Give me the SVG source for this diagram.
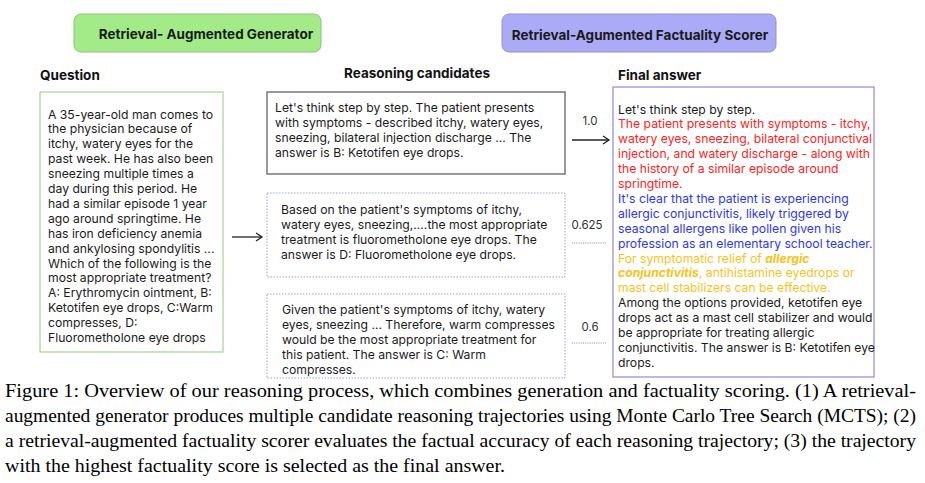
<svg xmlns="http://www.w3.org/2000/svg" width="925" height="483" viewBox="0 0 925 483">
<style>
text{font-family:Inter,"Noto Sans","Liberation Sans",sans-serif;font-size:12.2px;fill:#1a1a1a}
.h{font-weight:bold;font-size:13.5px}
.hd{font-weight:bold;font-size:13.5px;fill:#111}
.sc{font-size:11.5px;fill:#333}
.r{fill:#ff2222}.b{fill:#2c36f2}.y{fill:#f6c31c}
.cap{font-family:"Liberation Serif","Times New Roman",serif;font-size:19.5px;fill:#000}
.ln{stroke:#222;stroke-width:1.3;fill:none}
.dot{stroke:#888;stroke-width:1;stroke-dasharray:1 1.2;fill:none}
</style>
<defs>
<marker id="ah" markerWidth="10" markerHeight="10" refX="8" refY="5" orient="auto" markerUnits="userSpaceOnUse">
<path d="M2,1 L8,5 L2,9" fill="none" stroke="#222" stroke-width="1.3"/>
</marker>
</defs>
<rect width="925" height="483" fill="#fff"/>
<g id="gen">
<rect x="74" y="14" width="247" height="38" rx="7" fill="#a2eb88" stroke="#8fbf80" stroke-width="1"/>
<text class="h" x="206" y="39" text-anchor="middle">Retrieval- Augmented Generator</text>
</g>
<g id="scorer">
<rect x="502" y="14" width="274" height="38" rx="7" fill="#aaaaf6" stroke="#9494c8" stroke-width="1"/>
<text class="h" x="640" y="40" text-anchor="middle">Retrieval-Agumented Factuality Scorer</text>
</g>
<text class="hd" x="40" y="80">Question</text>
<text class="hd" x="344" y="78">Reasoning candidates</text>
<text class="hd" x="618" y="80">Final answer</text>
<g id="question">
<rect x="40" y="92" width="183" height="260" fill="#fff" stroke="#a4d690" stroke-width="1.2"/>
<text x="48" y="118.5">A 35-year-old man comes to</text>
<text x="48" y="133.4">the physician because of</text>
<text x="48" y="148.3">itchy, watery eyes for the</text>
<text x="48" y="163.2">past week. He has also been</text>
<text x="48" y="178.1">sneezing multiple times a</text>
<text x="48" y="193">day during this period. He</text>
<text x="48" y="207.9">had a similar episode 1 year</text>
<text x="48" y="222.8">ago around springtime. He</text>
<text x="48" y="237.7">has iron deficiency anemia</text>
<text x="48" y="252.6">and ankylosing spondylitis ...</text>
<text x="48" y="267.5">Which of the following is the</text>
<text x="48" y="282.4">most appropriate treatment?</text>
<text x="48" y="297.3">A: Erythromycin ointment, B:</text>
<text x="48" y="312.2">Ketotifen eye drops, C:Warm</text>
<text x="48" y="327.1">compresses, D:</text>
<text x="48" y="342">Fluorometholone eye drops</text>
</g>
<g id="cand1">
<rect x="267" y="92" width="298" height="82" fill="#fff" stroke="#555" stroke-width="1.2"/>
<text x="275" y="111.5">Let's think step by step. The patient presents</text>
<text x="275" y="126.5">with symptoms - described itchy, watery eyes,</text>
<text x="275" y="141.5">sneezing, bilateral injection discharge ... The</text>
<text x="275" y="156.5">answer is B: Ketotifen eye drops.</text>
</g>
<g id="cand2">
<rect x="267" y="193" width="298" height="84" fill="#fff" stroke="#9aa3c9" stroke-width="1" stroke-dasharray="1.5 1.5"/>
<text x="281" y="214">Based on the patient's symptoms of itchy,</text>
<text x="281" y="229">watery eyes, sneezing,....the most appropriate</text>
<text x="281" y="244">treatment is fluorometholone eye drops. The</text>
<text x="281" y="259">answer is D: Fluorometholone eye drops.</text>
</g>
<g id="cand3">
<rect x="267" y="294" width="298" height="84" fill="#fff" stroke="#9aa3c9" stroke-width="1" stroke-dasharray="1.5 1.5"/>
<text x="282" y="313.5">Given the patient's symptoms of itchy, watery</text>
<text x="282" y="328.5">eyes, sneezing ... Therefore, warm compresses</text>
<text x="282" y="343.5">would be the most appropriate treatment for</text>
<text x="282" y="358.5">this patient. The answer is C: Warm</text>
<text x="282" y="373.5">compresses.</text>
</g>
<g id="final">
<rect x="613" y="87" width="261" height="290" fill="#fff" stroke="#9a92dd" stroke-width="1.3"/>
<text x="618" y="113.5">Let's think step by step.</text>
<text class="r" x="618" y="128.4">The patient presents with symptoms - itchy,</text>
<text class="r" x="618" y="143.3">watery eyes, sneezing, bilateral conjunctival</text>
<text class="r" x="618" y="158.2">injection, and watery discharge - along with</text>
<text class="r" x="618" y="173.1">the history of a similar episode around</text>
<text class="r" x="618" y="188">springtime.</text>
<text class="b" x="618" y="202.9">It's clear that the patient is experiencing</text>
<text class="b" x="618" y="217.8">allergic conjunctivitis, likely triggered by</text>
<text class="b" x="618" y="232.7">seasonal allergens like pollen given his</text>
<text class="b" x="618" y="247.6">profession as an elementary school teacher.</text>
<text class="y" x="618" y="262.5">For symptomatic relief of <tspan font-weight="bold" font-style="italic">allergic</tspan></text>
<text class="y" x="618" y="277.4"><tspan font-weight="bold" font-style="italic">conjunctivitis</tspan>, antihistamine eyedrops or</text>
<text class="y" x="618" y="292.3">mast cell stabilizers can be effective.</text>
<text x="618" y="307.2">Among the options provided, ketotifen eye</text>
<text x="618" y="322.1">drops act as a mast cell stabilizer and would</text>
<text x="618" y="337">be appropriate for treating allergic</text>
<text x="618" y="351.9">conjunctivitis. The answer is B: Ketotifen eye</text>
<text x="618" y="366.8">drops.</text>
</g>
<g id="connectors">
<line class="ln" x1="232" y1="237" x2="262" y2="237" marker-end="url(#ah)"/>
<line class="ln" x1="572" y1="140" x2="609" y2="140" marker-end="url(#ah)"/>
<line class="dot" x1="572" y1="243" x2="607" y2="243"/>
<line class="dot" x1="572" y1="343" x2="607" y2="343"/>
<text class="sc" x="590" y="125" text-anchor="middle">1.0</text>
<text class="sc" x="587" y="229" text-anchor="middle">0.625</text>
<text class="sc" x="590" y="331" text-anchor="middle">0.6</text>
</g>
<g id="caption">
<text class="cap" x="5" y="397" textLength="911" lengthAdjust="spacingAndGlyphs">Figure 1: Overview of our reasoning process, which combines generation and factuality scoring. (1) A retrieval-</text>
<text class="cap" x="5" y="422" textLength="911" lengthAdjust="spacingAndGlyphs">augmented generator produces multiple candidate reasoning trajectories using Monte Carlo Tree Search (MCTS); (2)</text>
<text class="cap" x="5" y="447" textLength="911" lengthAdjust="spacingAndGlyphs">a retrieval-augmented factuality scorer evaluates the factual accuracy of each reasoning trajectory; (3) the trajectory</text>
<text class="cap" x="5" y="472" textLength="500" lengthAdjust="spacingAndGlyphs">with the highest factuality score is selected as the final answer.</text>
</g>
</svg>
